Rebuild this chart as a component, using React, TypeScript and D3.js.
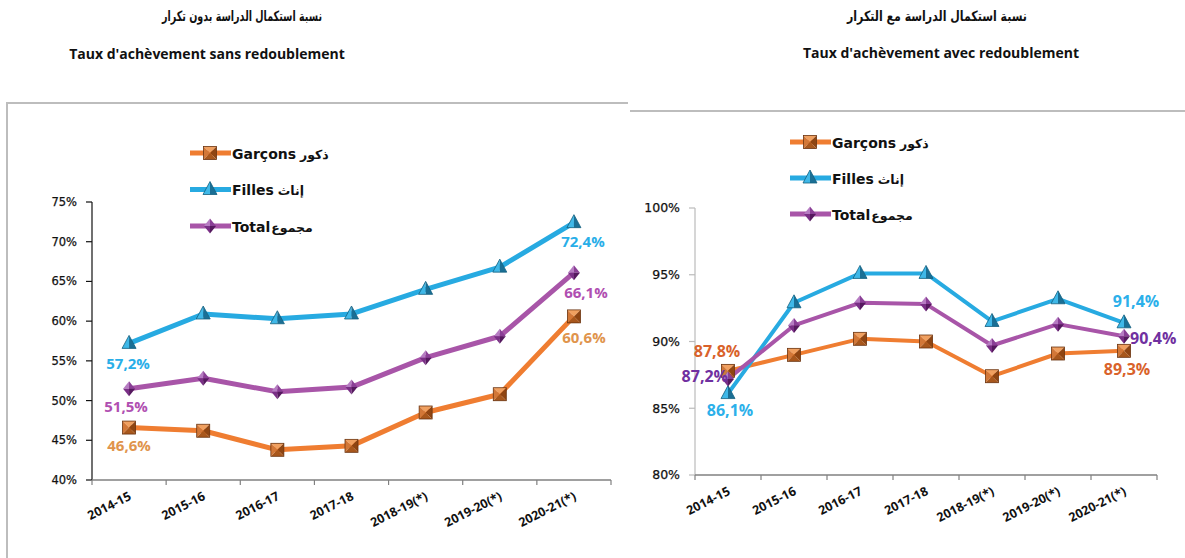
import React from 'react';
import * as d3 from 'd3';

const categories = ['2014-15', '2015-16', '2016-17', '2017-18', '2018-19(*)', '2019-20(*)', '2020-21(*)'];

// Taux d'achèvement sans redoublement
const sansGarcons = [46.6, 46.2, 43.8, 44.3, 48.5, 50.8, 60.6];
const sansFilles = [57.2, 60.9, 60.3, 60.9, 64.0, 66.8, 72.4];
const sansTotal = [51.5, 52.8, 51.1, 51.7, 55.4, 58.1, 66.1];
const sansTicks = [40, 45, 50, 55, 60, 65, 70, 75];

// Taux d'achèvement avec redoublement
const avecGarcons = [87.8, 89.0, 90.2, 90.0, 87.4, 89.1, 89.3];
const avecFilles = [86.1, 92.9, 95.1, 95.1, 91.5, 93.2, 91.4];
const avecTotal = [87.2, 91.2, 92.9, 92.8, 89.7, 91.3, 90.4];
const avecTicks = [80, 85, 90, 95, 100];

const legendFr = ['Garçons', 'Filles', 'Total'];
const legendAr = ['ذكور', 'إناث', 'مجموع'];

const lineColors = ['#ef7d31', '#27aae1', '#a855a8'];
const markerKinds = ['square', 'triangle', 'diamond'];

const fmt = (v: number) => d3.format('.1f')(v).replace('.', ',') + '%';

function Marker({ kind, x, y }: { kind: string; x: number; y: number }) {
  if (kind === 'square') {
    const s = 6.5;
    return (
      <g transform={`translate(${x},${y})`}>
        <path d={`M${-s},${-s}L${s},${-s}L0,0Z`} fill="#f0a060" />
        <path d={`M${-s},${-s}L${-s},${s}L0,0Z`} fill="#d27737" />
        <path d={`M${s},${-s}L${s},${s}L0,0Z`} fill="#8f4512" />
        <path d={`M${-s},${s}L${s},${s}L0,0Z`} fill="#a8571c" />
        <rect x={-s} y={-s} width={2 * s} height={2 * s} fill="none" stroke="#6b3410" strokeWidth={0.8} />
      </g>
    );
  }
  if (kind === 'triangle') {
    return (
      <g transform={`translate(${x},${y})`}>
        <path d="M0,-8L-7,5L0,5Z" fill="#3fb8e8" />
        <path d="M0,-8L7,5L0,5Z" fill="#1a6f95" />
        <path d="M0,-8L7,5L-7,5Z" fill="none" stroke="#13607f" strokeWidth={0.8} />
      </g>
    );
  }
  return (
    <g transform={`translate(${x},${y})`}>
      <path d="M0,-7.5L-6,0L0,0Z" fill="#b67cc2" />
      <path d="M0,-7.5L6,0L0,0Z" fill="#8a3f96" />
      <path d="M0,7.5L-6,0L0,0Z" fill="#7a2f86" />
      <path d="M0,7.5L6,0L0,0Z" fill="#56195f" />
    </g>
  );
}

type LabelSpec = { s: number; i: number; dx: number; dy: number; color: string; anchor?: string };

function Chart(props: {
  x0: number; x1: number; yTop: number; yBottom: number;
  domain: [number, number]; ticks: number[]; series: number[][];
  labels: LabelSpec[]; legendX: number; legendY: number; legendGap: number;
  yAxisColor: string; tickSize: number; labelSize: number; lineWidth: number;
}) {
  const { x0, x1, yTop, yBottom, domain, ticks, series, labels, legendX, legendY, legendGap, yAxisColor, tickSize, labelSize, lineWidth } = props;
  const x = d3.scaleBand<string>().domain(categories).range([x0, x1]).padding(0);
  const y = d3.scaleLinear().domain(domain).range([yBottom, yTop]);
  const cx = (i: number) => (x(categories[i]) as number) + x.bandwidth() / 2;
  const line = d3.line<number>().x((_, i) => cx(i)).y(d => y(d));
  const bounds = d3.range(categories.length + 1).map(i => x0 + i * x.bandwidth());

  return (
    <g>
      {/* y axis */}
      <line x1={x0} x2={x0} y1={y(domain[1])} y2={y(domain[0])} stroke={yAxisColor} strokeWidth={1.2} />
      {ticks.map(t => (
        <g key={t}>
          <line x1={x0 - 6} x2={x0} y1={y(t)} y2={y(t)} stroke={yAxisColor} strokeWidth={1.2} />
          <text x={x0 - 15} y={y(t)} dy="0.35em" textAnchor="end" fontFamily="DejaVu Sans" fontSize={tickSize}
            fill="#111" stroke="#111" strokeWidth={0.25}>
            {t}%
          </text>
        </g>
      ))}
      {/* x axis */}
      <line x1={x0} x2={x1} y1={yBottom} y2={yBottom} stroke="#808080" strokeWidth={1.5} />
      {bounds.map((b, i) => (
        <line key={i} x1={b} x2={b} y1={yBottom} y2={yBottom + 5} stroke="#808080" strokeWidth={1.2} />
      ))}
      {categories.map((c, i) => (
        <text key={c} transform={`translate(${cx(i) + 3},${yBottom + 19}) rotate(-27)`} textAnchor="end"
          fontFamily="Open Sans" fontWeight={700} fontSize={12.5} fill="#111">
          {c}
        </text>
      ))}
      {/* lines */}
      {series.map((s, k) => (
        <path key={k} d={line(s) as string} fill="none" stroke={lineColors[k]} strokeWidth={lineWidth} strokeLinejoin="round" />
      ))}
      {series.map((s, k) => s.map((v, i) => <Marker key={`${k}-${i}`} kind={markerKinds[k]} x={cx(i)} y={y(v)} />))}
      {/* data labels */}
      {labels.map((l, j) => (
        <text key={j} x={cx(l.i) + l.dx} y={y(series[l.s][l.i]) + l.dy} dy="0.35em" textAnchor={l.anchor || 'middle'}
          fontFamily="Open Sans" fontWeight={700} fontSize={labelSize} fill={l.color}>
          {fmt(series[l.s][l.i])}
        </text>
      ))}
      {/* legend */}
      {legendFr.map((name, k) => {
        const ly = legendY + k * legendGap;
        return (
          <g key={name}>
            <line x1={legendX} x2={legendX + 41} y1={ly} y2={ly} stroke={lineColors[k]} strokeWidth={5} />
            <Marker kind={markerKinds[k]} x={legendX + 20} y={ly} />
            <text x={legendX + 42} y={ly} dy="0.36em" fill="#111">
              <tspan fontFamily="DejaVu Sans" fontWeight={700} fontSize={14}>{name}</tspan>
              <tspan fontFamily="DejaVu Sans" fontWeight={700} fontSize={12.5} dx={k === 2 ? 1 : 4}>{legendAr[k]}</tspan>
            </text>
          </g>
        );
      })}
    </g>
  );
}

export default function App() {
  return (
    <svg width={1185} height={558} style={{ position: 'absolute', left: 0, top: 0, background: '#fff' }}>
      {/* titles */}
      <text x={242} y={16} dy="0.35em" textAnchor="middle" fontFamily="DejaVu Sans" fontWeight={700} fontSize={14}
        textLength={160} lengthAdjust="spacingAndGlyphs" fill="#111">
        نسبة استكمال الدراسة بدون تكرار
      </text>
      <text x={207} y={54} dy="0.35em" textAnchor="middle" fontFamily="Open Sans" fontWeight={700} fontSize={14} fill="#111">
        Taux d'achèvement sans redoublement
      </text>
      <text x={937} y={16} dy="0.35em" textAnchor="middle" fontFamily="DejaVu Sans" fontWeight={700} fontSize={14}
        textLength={180} lengthAdjust="spacingAndGlyphs" fill="#111">
        نسبة استكمال الدراسة مع التكرار
      </text>
      <text x={941} y={53} dy="0.35em" textAnchor="middle" fontFamily="Open Sans" fontWeight={700} fontSize={14} fill="#111">
        Taux d'achèvement avec redoublement
      </text>

      {/* frames */}
      <path d="M7,558L7,103L628,103" fill="none" stroke="#bdbdbd" strokeWidth={2} />
      <line x1={630} x2={1185} y1={111} y2={111} stroke="#bdbdbd" strokeWidth={2} />

      <Chart
        x0={92} x1={611} yTop={202} yBottom={480} domain={[40, 75]} ticks={sansTicks}
        series={[sansGarcons, sansFilles, sansTotal]}
        labels={[
          { s: 1, i: 0, dx: -1, dy: 20, color: '#29aee8' },
          { s: 2, i: 0, dx: -3, dy: 18, color: '#b04fb1' },
          { s: 0, i: 0, dx: 0, dy: 18, color: '#e0944c' },
          { s: 1, i: 6, dx: 9, dy: 19, color: '#29aee8' },
          { s: 2, i: 6, dx: 12, dy: 20, color: '#b04fb1' },
          { s: 0, i: 6, dx: 10, dy: 21, color: '#e0944c' },
        ]}
        legendX={190} legendY={153} legendGap={36.5}
        yAxisColor="#111" tickSize={11.5} labelSize={15} lineWidth={5}
      />
      <Chart
        x0={695} x1={1157} yTop={208} yBottom={475} domain={[80, 100]} ticks={avecTicks}
        series={[avecGarcons, avecFilles, avecTotal]}
        labels={[
          { s: 0, i: 0, dx: -11, dy: -19, color: '#d9622b' },
          { s: 2, i: 0, dx: 0, dy: -2, color: '#7030a0', anchor: 'end' },
          { s: 1, i: 0, dx: 2, dy: 17, color: '#2cb0ea' },
          { s: 1, i: 6, dx: 12, dy: -21, color: '#2cb0ea' },
          { s: 2, i: 6, dx: 6, dy: 2, color: '#7030a0', anchor: 'start' },
          { s: 0, i: 6, dx: 3, dy: 19, color: '#d9622b' },
        ]}
        legendX={790} legendY={142} legendGap={36}
        yAxisColor="#bbbbbb" tickSize={12.5} labelSize={16} lineWidth={4}
      />
    </svg>
  );
}
